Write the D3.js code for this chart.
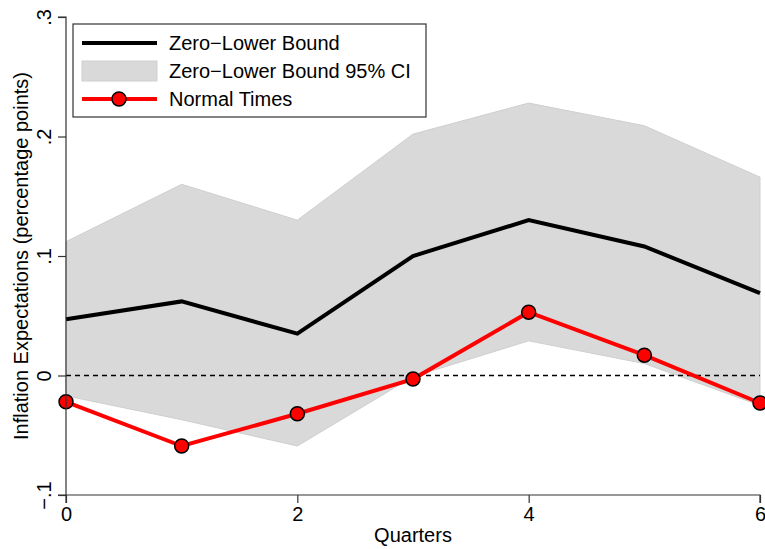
<!DOCTYPE html>
<html lang="en">
<head>
<meta charset="UTF-8">
<script src="https://d3js.org/d3.v7.min.js"></script>
<style>
  body { margin: 0; background: #fff; }
  svg { display: block; font-family: "Liberation Sans", Arial, Helvetica, sans-serif; }
  .tick text { font-size: 20px; fill: #000; }
</style>
</head>
<body>
<svg id="chart" width="765" height="549"></svg>
<script>
// data
const quarters = [0, 1, 2, 3, 4, 5, 6];
const zlb      = [0.047, 0.062, 0.035, 0.100, 0.130, 0.108, 0.069];
const zlbUpper = [0.112, 0.160, 0.130, 0.202, 0.228, 0.209, 0.166];
const zlbLower = [-0.017, -0.037, -0.059, -0.001, 0.029, 0.010, -0.025];
const normal   = [-0.022, -0.059, -0.032, -0.003, 0.053, 0.017, -0.023];
const xTicks = [0, 2, 4, 6];
const yTicks = [-0.1, 0, 0.1, 0.2, 0.3];
const yTickLabels = ["\u2212.1", "0", ".1", ".2", ".3"];
const legendLabels = ["Zero\u2212Lower Bound", "Zero\u2212Lower Bound 95% CI", "Normal Times"];

const svg = d3.select("#chart");
const plotLeft = 66, plotRight = 760, plotTop = 17, plotBottom = 495;

const x = d3.scaleLinear().domain([0, 6]).range([plotLeft, plotRight]);
const y = d3.scaleLinear().domain([-0.1, 0.3]).range([plotBottom, plotTop]);

const g = svg.append("g");

// CI band
const band = quarters.map((q, i) => ({q: q, lo: zlbLower[i], hi: zlbUpper[i]}));
g.append("path").datum(band)
  .attr("fill", "#d9d9d9")
  .attr("stroke", "#cfcfcf")
  .attr("stroke-width", 1)
  .attr("d", d3.area().x(d => x(d.q)).y0(d => y(d.lo)).y1(d => y(d.hi)));

// zero line
g.append("line")
  .attr("x1", x(0)).attr("x2", x(6))
  .attr("y1", y(0)).attr("y2", y(0))
  .attr("stroke", "#000").attr("stroke-width", 1.4)
  .attr("stroke-dasharray", "5,4");

const line = d3.line().x(d => x(d[0])).y(d => y(d[1]));

// ZLB line
g.append("path").datum(quarters.map((q, i) => [q, zlb[i]]))
  .attr("fill", "none").attr("stroke", "#000")
  .attr("stroke-width", 4).attr("d", line);

// Normal times
const normalPts = quarters.map((q, i) => [q, normal[i]]);
g.append("path").datum(normalPts)
  .attr("fill", "none").attr("stroke", "#ff0000")
  .attr("stroke-width", 4).attr("d", line);
g.selectAll("circle.nt").data(normalPts).join("circle")
  .attr("class", "nt")
  .attr("cx", d => x(d[0])).attr("cy", d => y(d[1]))
  .attr("r", 7).attr("fill", "#ff0000")
  .attr("stroke", "#000").attr("stroke-width", 1.5);

// axes
const xAxis = svg.append("g").attr("transform", `translate(0,${plotBottom})`)
  .call(d3.axisBottom(x).tickValues(xTicks).tickSize(8).tickPadding(4).tickFormat(d3.format("d")));
xAxis.selectAll("path, line").attr("stroke", "#333").attr("stroke-width", 1.2);
xAxis.select(".domain").attr("d", `M${plotLeft},8V0H${plotRight}V8`);

const yAxis = svg.append("g").attr("transform", `translate(${plotLeft},0)`)
  .call(d3.axisLeft(y).tickValues(yTicks).tickSize(8).tickFormat((d, i) => yTickLabels[i]));
yAxis.selectAll("path, line").attr("stroke", "#333").attr("stroke-width", 1.2);
yAxis.select(".domain").attr("d", `M-8,${plotTop}H0V${plotBottom}H-8`);
yAxis.selectAll(".tick text")
  .attr("x", 0).attr("dy", 0)
  .attr("text-anchor", "middle")
  .attr("transform", "translate(-15,0) rotate(-90)");

// axis titles
svg.append("text")
  .attr("x", 413).attr("y", 542)
  .attr("text-anchor", "middle").attr("font-size", 20)
  .text("Quarters");
svg.append("text")
  .attr("transform", `translate(28,${(plotTop + plotBottom) / 2}) rotate(-90)`)
  .attr("text-anchor", "middle").attr("font-size", 20)
  .text("Inflation Expectations (percentage points)");

// legend
const lg = svg.append("g").attr("transform", "translate(73,24)");
lg.append("rect").attr("width", 353).attr("height", 93)
  .attr("fill", "#fff").attr("stroke", "#333").attr("stroke-width", 1.2);
lg.append("line").attr("x1", 9).attr("x2", 84).attr("y1", 19).attr("y2", 19)
  .attr("stroke", "#000").attr("stroke-width", 4);
lg.append("rect").attr("x", 9).attr("y", 37).attr("width", 75).attr("height", 20)
  .attr("fill", "#d9d9d9").attr("stroke", "#cfcfcf");
lg.append("line").attr("x1", 9).attr("x2", 84).attr("y1", 75).attr("y2", 75)
  .attr("stroke", "#ff0000").attr("stroke-width", 4);
lg.append("circle").attr("cx", 46).attr("cy", 75).attr("r", 7)
  .attr("fill", "#ff0000").attr("stroke", "#000").attr("stroke-width", 1.5);
lg.selectAll("text.lab").data(legendLabels).join("text")
  .attr("class", "lab")
  .attr("x", 96).attr("y", (d, i) => 19 + i * 28 + 7)
  .attr("font-size", 20)
  .text(d => d);
</script>
</body>
</html>
